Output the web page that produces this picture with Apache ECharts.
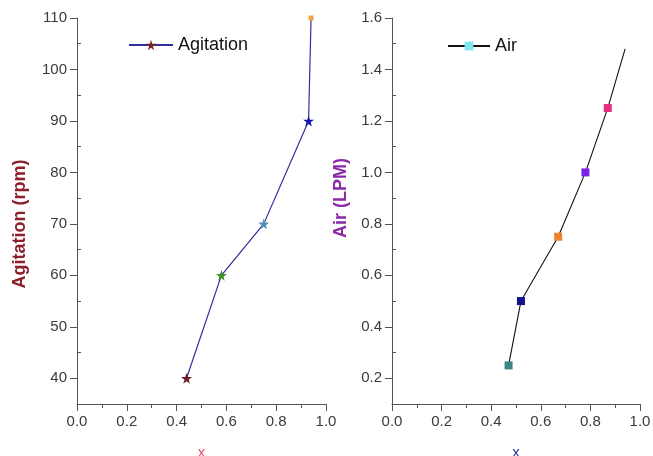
<!DOCTYPE html>
<html><head><meta charset="utf-8">
<script src="https://cdn.jsdelivr.net/npm/echarts@6/dist/echarts.min.js"></script>
<style>html,body{margin:0;padding:0;background:#fff}#c{width:653px;height:456px}</style>
</head><body><div id="c"></div>
<script>
// Data
const agitX = [0.44, 0.58, 0.75, 0.93, 0.94];
const agitY = [40, 60, 70, 90, 110];
const agitColors = ['#6e1c22', '#3f8f1f', '#4f8db5', '#1414b8', '#f0a24a'];
const airX = [0.47, 0.52, 0.67, 0.78, 0.87, 0.94];
const airY = [0.25, 0.50, 0.75, 1.00, 1.25, 1.48];
const airColors = ['#3d8584', '#13128c', '#f0832a', '#7a22e6', '#e2307e', null];
const xTicks = [0, 0.2, 0.4, 0.6, 0.8, 1.0];
const agitMajor = [40, 50, 60, 70, 80, 90, 100, 110];
const agitMinor = [35, 45, 55, 65, 75, 85, 95, 105];
const airMajor = [0.2, 0.4, 0.6, 0.8, 1.0, 1.2, 1.4, 1.6];
const airMinor = [0.1, 0.3, 0.5, 0.7, 0.9, 1.1, 1.3, 1.5];

const STAR = 'path://M50,0 L61,35 L98,35 L68,57 L79,91 L50,70 L21,91 L32,57 L2,35 L39,35 Z';
const FONT = 'Liberation Sans, Arial, sans-serif';
const axisCol = '#555';
const lblStyle = {color: '#3a3a3a', fontSize: 15, fontFamily: FONT};

function xAxis(grid, name, nameColor) {
  return {
    type: 'value', gridIndex: grid, min: 0, max: 1, interval: 0.2,
    name: name, nameLocation: 'middle', nameGap: 41,
    nameTextStyle: {color: nameColor, fontSize: 15, fontFamily: FONT},
    axisLine: {show: true, onZero: false, lineStyle: {color: axisCol, width: 1}},
    axisTick: {show: true, length: 7, lineStyle: {color: axisCol}},
    minorTick: {show: true, splitNumber: 2, length: 4, lineStyle: {color: axisCol}},
    axisLabel: Object.assign({margin: 10, formatter: v => v.toFixed(1)}, lblStyle),
    splitLine: {show: false}
  };
}
function yMajor(grid, min, max, major, name, nameColor, gap, dec, pad) {
  return {
    type: 'value', gridIndex: grid, min: min, max: max,
    name: name, nameLocation: 'middle', nameGap: gap,
    nameTextStyle: {color: nameColor, fontSize: 18, fontWeight: 'bold', fontFamily: FONT, padding: pad},
    axisLine: {show: true, onZero: false, lineStyle: {color: axisCol, width: 1}},
    axisTick: {show: true, length: 7, customValues: major, lineStyle: {color: axisCol}},
    axisLabel: Object.assign({margin: 10, customValues: major, formatter: v => v.toFixed(dec)}, lblStyle),
    splitLine: {show: false}
  };
}
function yMinor(grid, min, max, minor) {
  return {
    type: 'value', gridIndex: grid, min: min, max: max,
    axisLine: {show: false},
    axisTick: {show: true, length: 4, customValues: minor, lineStyle: {color: axisCol}},
    axisLabel: {show: false, customValues: minor},
    splitLine: {show: false}
  };
}

const agitData = agitX.map((x, i) => ({
  value: [x, agitY[i]],
  symbol: i === agitX.length - 1 ? 'rect' : STAR,
  symbolSize: i === agitX.length - 1 ? 5 : 11,
  itemStyle: {color: agitColors[i]}
}));
const airData = airX.map((x, i) => airColors[i] ? ({
  value: [x, airY[i]], symbol: 'rect', symbolSize: 8, itemStyle: {color: airColors[i]}
}) : ({value: [x, airY[i]], symbol: 'none', symbolSize: 0}));

const chart = echarts.init(document.getElementById('c'), null, {renderer: 'canvas'});
chart.setOption({
  animation: false,
  backgroundColor: '#fff',
  grid: [
    {left: 77, top: 18, width: 249, bottom: 52, containLabel: false, outerBoundsMode: 'none'},
    {left: 392, top: 18, width: 248, bottom: 52, containLabel: false, outerBoundsMode: 'none'}
  ],
  xAxis: [xAxis(0, 'x', '#e0506a'), xAxis(1, 'x', '#2a36a8')],
  yAxis: [
    yMajor(0, 35, 110, agitMajor, 'Agitation (rpm)', '#8b1f2a', 48, 0, [0, 26, 0, 0]),
    yMinor(0, 35, 110, agitMinor),
    yMajor(1, 0.1, 1.6, airMajor, 'Air (LPM)', '#8a2aa5', 42, 1, [0, 0, 0, 26]),
    yMinor(1, 0.1, 1.6, airMinor)
  ],
  legend: [
    {data: ['Agitation'], left: 128, top: 36, padding: 0, itemWidth: 44, itemHeight: 13, itemGap: 1,
     textStyle: {color: '#111', fontSize: 18, fontFamily: FONT}},
    {data: ['Air'], left: 447, top: 37, padding: 0, itemWidth: 42, itemHeight: 11, itemGap: 3,
     textStyle: {color: '#111', fontSize: 18, fontFamily: FONT}}
  ],
  series: [
    {name: 'Agitation', type: 'line', xAxisIndex: 0, yAxisIndex: 0, data: agitData,
     symbol: STAR, symbolSize: 10, itemStyle: {color: '#7a1f24'},
     lineStyle: {color: '#2e2e9e', width: 1.2}},
    {name: 'Air', type: 'line', xAxisIndex: 1, yAxisIndex: 2, data: airData,
     symbol: 'rect', symbolSize: 8, itemStyle: {color: '#7fe6f0'},
     lineStyle: {color: '#111', width: 1.1}}
  ]
});
</script></body></html>
